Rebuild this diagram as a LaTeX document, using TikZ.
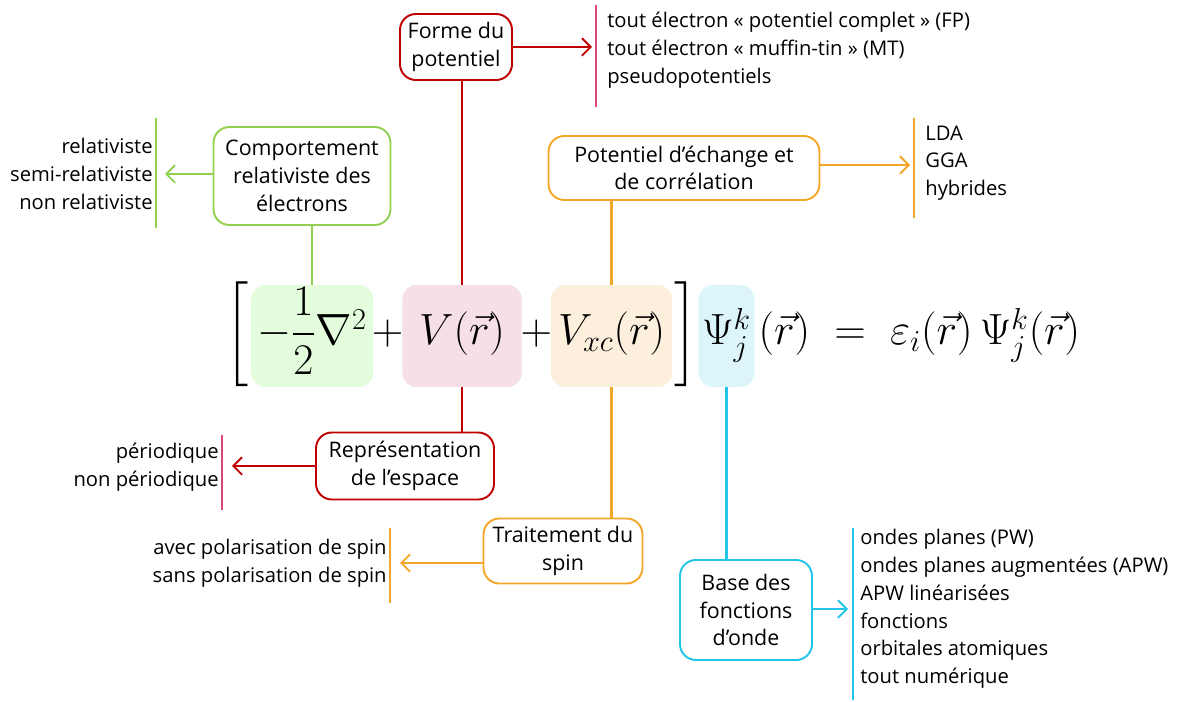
\documentclass[tikz,border=0pt]{standalone}
\usepackage{amsmath}
\usepackage{fontspec}
\setmainfont{Open Sans}
\usetikzlibrary{positioning,arrows.meta}
\definecolor{cRed}{HTML}{C00000}
\definecolor{cPink}{HTML}{D9457C}
\definecolor{cGreen}{HTML}{92D050}
\definecolor{cOrange}{HTML}{F4A62A}
\definecolor{cCyan}{HTML}{22C5E9}
\definecolor{fGreen}{HTML}{E2FCDC}
\definecolor{fRed}{HTML}{F6DFE7}
\definecolor{fOrange}{HTML}{FCEFDC}
\definecolor{fCyan}{HTML}{DCF5FB}
\tikzset{
  cbox/.style={draw=#1, line width=1.1pt, rounded corners=9pt, fill=white, align=center,
    font=\fontsize{12.2}{15.8}\selectfont, inner sep=2pt},
  link/.style={draw=#1, line width=1.3pt},
  arr/.style={link=#1, -{Straight Barb[length=5pt,width=10pt,line width=1.1pt]}},
  bar/.style={draw=#1, line width=0.8pt},
  lst/.style={font=\fontsize{11.5}{15.8}\selectfont, inner sep=0pt},
  term/.style={fill=#1, rounded corners=8pt, text height=1.2cm, text depth=0.84cm,
    inner ysep=0pt, inner xsep=1pt},
  eqn/.style={inner sep=0pt, font=\fontsize{26}{30}\selectfont}
}
\begin{document}
\begin{tikzpicture}[x=0.02cm, y=-0.02cm]
\useasboundingbox (0,0) rectangle (1178,702);

% l'equation
\node[eqn, anchor=base west] (lbr) at (225,345) {$\left[\vphantom{\dfrac{1}{2}}\right.$};
\node[eqn, term=fGreen, inner xsep=3.5pt, base right=0pt of lbr] (tKin) {$-\dfrac{1}{2}\nabla^2$};
\node[eqn, base right=-1pt of tKin] (pOne) {$+$};
\node[eqn, term=fRed, inner xsep=9.5pt, base right=-1pt of pOne] (tPot) {$V(\vec{r})$};
\node[eqn, base right=-1pt of tPot] (pTwo) {$+$};
\node[eqn, term=fOrange, inner xsep=4pt, base right=-1pt of pTwo] (tXc) {$V_{xc}(\vec{r})$};
\node[eqn, base right=0pt of tXc] (rbr) {$\left.\vphantom{\dfrac{1}{2}}\right]$};
\node[eqn, term=fCyan, inner xsep=2pt, base right=0pt of rbr] (tPsi) {$\Psi_j^k$};
\node[eqn, base right=2pt of tPsi] (rest) {$(\vec{r})\;=\;\varepsilon_i(\vec{r})\,\Psi_j^k(\vec{r})$};

% boites
\node[cbox=cRed, minimum width=2.24cm, minimum height=1.32cm] (fp) at (456,47) {Forme du\\potentiel};
\node[cbox=cGreen, minimum width=3.54cm, minimum height=1.96cm] (cr) at (302,176) {Comportement\\relativiste des\\électrons};
\node[cbox=cOrange, minimum width=5.42cm, minimum height=1.28cm] (xc) at (684,168) {Potentiel d’échange et\\de corrélation};
\node[cbox=cRed, minimum width=3.56cm, minimum height=1.34cm] (re) at (405,466) {Représentation\\de l’espace};
\node[cbox=cOrange, minimum width=3.18cm, minimum height=1.30cm] (sp) at (563,551) {Traitement du\\spin};
\node[cbox=cCyan, minimum width=2.64cm, minimum height=2.0cm] (bf) at (746,610) {Base des\\fonctions\\d’onde};

% listes
\node[lst, anchor=west, align=left] (fpl) at (607,50) {tout électron « potentiel complet » (FP)\\tout électron « muffin-tin » (MT)\\pseudopotentiels};
\node[lst, anchor=east, align=right] (crl) at (153,174) {relativiste\\semi-relativiste\\non relativiste};
\node[lst, anchor=west, align=left] (xcl) at (925,163) {LDA\\GGA\\hybrides};
\node[lst, anchor=east, align=right] (rel) at (219,467) {périodique\\non périodique};
\node[lst, anchor=east, align=right] (spl) at (387,563) {avec polarisation de spin\\sans polarisation de spin};
\node[lst, anchor=west, align=left] (bfl) at (860,609) {ondes planes (PW)\\ondes planes augmentées (APW)\\APW linéarisées\\fonctions\\orbitales atomiques\\tout numérique};

% traits verticaux
\draw[bar=cPink] (596,5) -- (596,107);
\draw[bar=cGreen] (156,118) -- (156,228);
\draw[bar=cOrange] (914,118) -- (914,218);
\draw[bar=cPink] (222,435) -- (222,510);
\draw[bar=cOrange] (390,528) -- (390,603);
\draw[bar=cCyan] (853,528) -- (853,700);

% liaisons
\draw[link=cGreen] (tKin.north) -- (tKin.north |- cr.south);
\draw[link=cRed] (tPot.north) -- (tPot.north |- fp.south);
\draw[link=cOrange] (tXc.north) -- (tXc.north |- xc.south);
\draw[link=cRed] (tPot.south) -- (tPot.south |- re.north);
\draw[link=cOrange] (tXc.south) -- (tXc.south |- sp.north);
\draw[link=cCyan] (tPsi.south) -- (tPsi.south |- bf.north);

% fleches
\coordinate (fpt) at (592,47);
\coordinate (crt) at (165,174);
\coordinate (xct) at (910,165);
\coordinate (ret) at (232,466);
\coordinate (spt) at (400,563);
\coordinate (bft) at (848,609);
\draw[arr=cRed] (fp.east) -- (fpt);
\draw[arr=cGreen] (cr.west |- crt) -- (crt);
\draw[arr=cOrange] (xc.east |- xct) -- (xct);
\draw[arr=cRed] (re.west) -- (ret);
\draw[arr=cOrange] (sp.west |- spt) -- (spt);
\draw[arr=cCyan] (bf.east |- bft) -- (bft);
\end{tikzpicture}
\end{document}
